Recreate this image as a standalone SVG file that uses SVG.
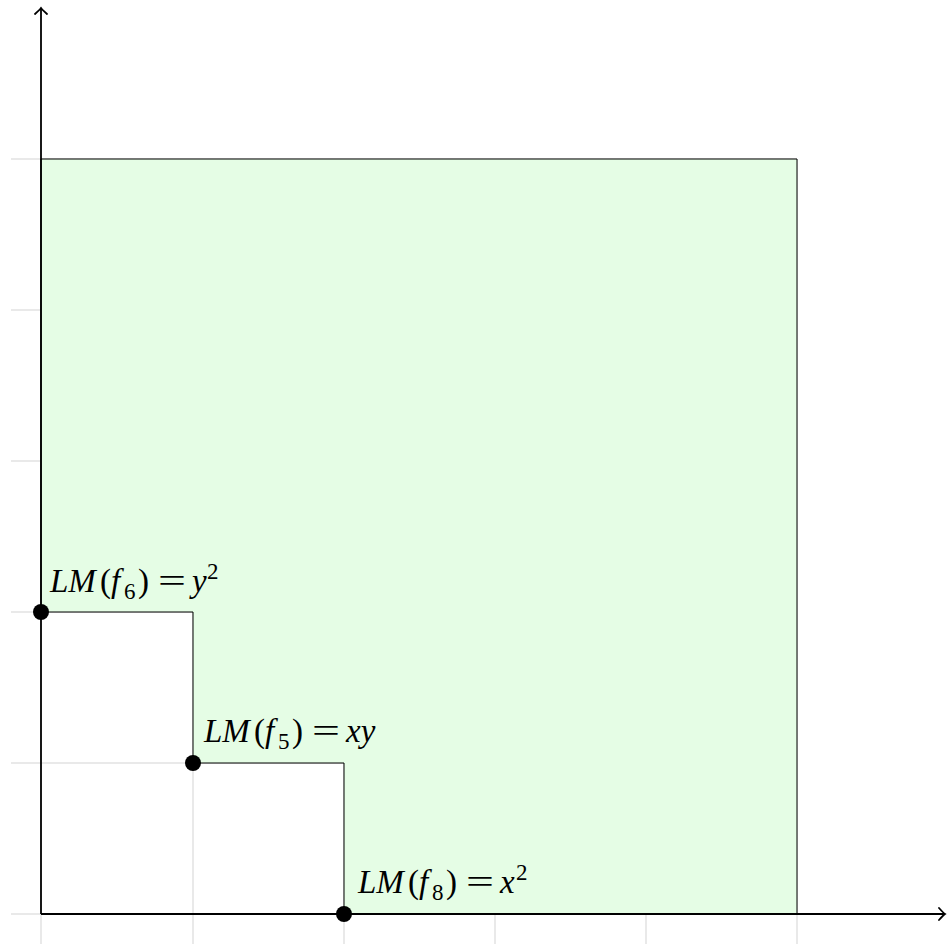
<svg xmlns="http://www.w3.org/2000/svg" width="948" height="944" viewBox="0 0 948 944">
<style>
.grid{stroke:#d3d3d3;stroke-width:1;fill:none}
.ax{stroke:#000;stroke-width:1.8;fill:none}
.lbl{font-family:"Liberation Serif","Times New Roman",serif;font-size:33px;fill:#000}
.it{font-style:italic}
.sm{font-size:23px}
</style>
<defs>
<marker id="arr" viewBox="-7 -7 9 14" markerWidth="9" markerHeight="14" refX="0" refY="0" orient="auto" markerUnits="userSpaceOnUse">
<path d="M-6,-6 Q-1.5,-1 0,0 Q-1.5,1 -6,6" fill="none" stroke="#000" stroke-width="1.8" stroke-linecap="round"/>
</marker>
</defs>
<rect width="948" height="944" fill="#fff"/>
<g id="grid" class="grid">
<path d="M11,914H797M11,763H797M11,612H797M11,461H797M11,310H797M11,159H797"/>
<path d="M41,159V944M193,159V944M344,159V944M495,159V944M646,159V944M797,159V944"/>
</g>
<g id="region">
<path d="M41,159H797V914H344V763H193V612H41Z" fill="#e5fde5" stroke="#000" stroke-width="1"/>
</g>
<g id="axes">
<path class="ax" d="M41,914H945" marker-end="url(#arr)"/>
<path class="ax" d="M41,914V8" marker-end="url(#arr)"/>
</g>
<g id="p6">
<circle cx="41" cy="612" r="8" fill="#000"/>
<text class="lbl" y="592"><tspan class="it" x="50">LM</tspan><tspan x="100">(</tspan><tspan class="it" x="111">f</tspan><tspan class="sm" x="124" dy="7">6</tspan><tspan x="138" dy="-7">)</tspan><tspan class="it" x="192">y</tspan><tspan class="sm" x="207" dy="-13">2</tspan></text>
<text class="lbl" x="158" y="592" textLength="28" lengthAdjust="spacingAndGlyphs">=</text>
</g>
<g id="p5">
<circle cx="193" cy="763" r="8" fill="#000"/>
<text class="lbl" y="742"><tspan class="it" x="204">LM</tspan><tspan x="254">(</tspan><tspan class="it" x="265">f</tspan><tspan class="sm" x="278" dy="7">5</tspan><tspan x="292" dy="-7">)</tspan><tspan class="it" x="346">xy</tspan></text>
<text class="lbl" x="312" y="742" textLength="28" lengthAdjust="spacingAndGlyphs">=</text>
</g>
<g id="p8">
<circle cx="344" cy="914" r="8" fill="#000"/>
<text class="lbl" y="893"><tspan class="it" x="358">LM</tspan><tspan x="408">(</tspan><tspan class="it" x="419">f</tspan><tspan class="sm" x="432" dy="7">8</tspan><tspan x="446" dy="-7">)</tspan><tspan class="it" x="500">x</tspan><tspan class="sm" x="516" dy="-13">2</tspan></text>
<text class="lbl" x="466" y="893" textLength="28" lengthAdjust="spacingAndGlyphs">=</text>
</g>
</svg>
